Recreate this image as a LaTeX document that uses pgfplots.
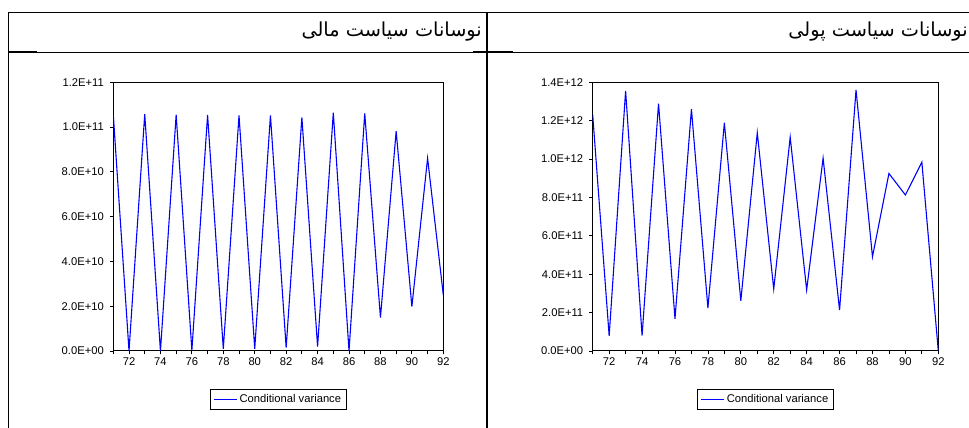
\documentclass[border=0pt]{standalone}
\usepackage{fontspec}
\setmainfont{Liberation Sans}
\newfontfamily\arabicfont[Script=Arabic]{DejaVu Sans}
\TeXXeTstate=1
\usepackage{pgfplots}
\pgfplotsset{compat=1.18}
\pgfplotstableread{
x y
71 1.054e11
72 0
73 1.058e11
74 0
75 1.055e11
76 0.03e10
77 1.054e11
78 0.1e10
79 1.052e11
80 0.1e10
81 1.052e11
82 0.15e10
83 1.043e11
84 0.2e10
85 1.064e11
86 0
87 1.061e11
88 1.49e10
89 0.982e11
90 1.98e10
91 8.61e10
92 2.5e10
}\fiscal
\pgfplotstableread{
x y
71 1.23e12
72 7.9e10
73 1.355e12
74 8.0e10
75 1.289e12
76 1.68e11
77 1.26e12
78 2.24e11
79 1.189e12
80 2.62e11
81 1.137e12
82 3.23e11
83 1.114e12
84 3.18e11
85 1.005e12
86 2.13e11
87 1.36e12
88 4.91e11
89 9.25e11
90 8.13e11
91 9.84e11
92 0
}\monetary
\pgfplotsset{cv/.style={
  scale only axis, height=268.7pt,
  xmin=71, xmax=92, ymin=0,
  scaled y ticks=false,
  xtick={72,74,...,92}, minor xtick={71,...,92},
  tick align=outside, major tick length=3.5pt, minor tick length=3.5pt,
  xtick pos=bottom, ytick pos=left,
  axis line style={line width=1pt},
  tick style={black, line width=0.8pt},
  ticklabel style={font=\fontsize{11.2}{13}\selectfont},
  yticklabel style={xshift=-2.5pt},
  /pgf/number format/assume math mode=true,
  legend style={at={(0.5,-0.1414)}, anchor=north, draw=black, line width=0.9pt,
    font=\fontsize{11.2}{13}\selectfont, inner xsep=3pt, inner ysep=3pt, legend cell align=left},
  legend image code/.code={\draw[#1] (0pt,0pt) -- (23pt,0pt);},
}}
\begin{document}
\begin{tikzpicture}[x=1pt,y=1pt]
\useasboundingbox (0,0) rectangle (969,428);
\begin{scope}
\clip (0,0) rectangle (969,428);
\draw[line width=1.4pt] (8,415.7) -- (975,415.7);
\draw[line width=0.9pt] (8,376) -- (975,376);
\draw[line width=1.9pt] (8.5,-5) -- (8.5,416.3);
\draw[line width=1.6pt] (486.7,-5) -- (486.7,416.3);
\draw[line width=1.6pt] (8,376) -- (37,376);
\draw[line width=1.6pt] (473,376) -- (513,376);
\node[anchor=east, inner sep=0pt, font=\arabicfont\fontsize{19.3}{22}\selectfont] at (482,396) {\beginR نوسانات سیاست مالی\endR};
\node[anchor=east, inner sep=0pt, font=\arabicfont\fontsize{19.3}{22}\selectfont] at (968,396) {\beginR نوسانات سیاست پولی\endR};
\end{scope}
\begin{axis}[cv, at={(113.3pt,77pt)}, anchor=south west, width=330pt,
  ymax=1.2e11, ytick={0,2e10,4e10,6e10,8e10,1e11,1.2e11},
  yticklabels={0.0E+00,2.0E+10,4.0E+10,6.0E+10,8.0E+10,1.0E+11,1.2E+11}]
\addplot[blue, line width=1.1pt] table[x=x,y=y] {\fiscal};
\addlegendentry{Conditional variance}
\end{axis}
\begin{axis}[cv, at={(592.7pt,77pt)}, anchor=south west, width=345.6pt,
  ymax=1.4e12, ytick={0,2e11,4e11,6e11,8e11,1e12,1.2e12,1.4e12},
  yticklabels={0.0E+00,2.0E+11,4.0E+11,6.0E+11,8.0E+11,1.0E+12,1.2E+12,1.4E+12}]
\addplot[blue, line width=1.1pt] table[x=x,y=y] {\monetary};
\addlegendentry{Conditional variance}
\end{axis}
\end{tikzpicture}
\end{document}
